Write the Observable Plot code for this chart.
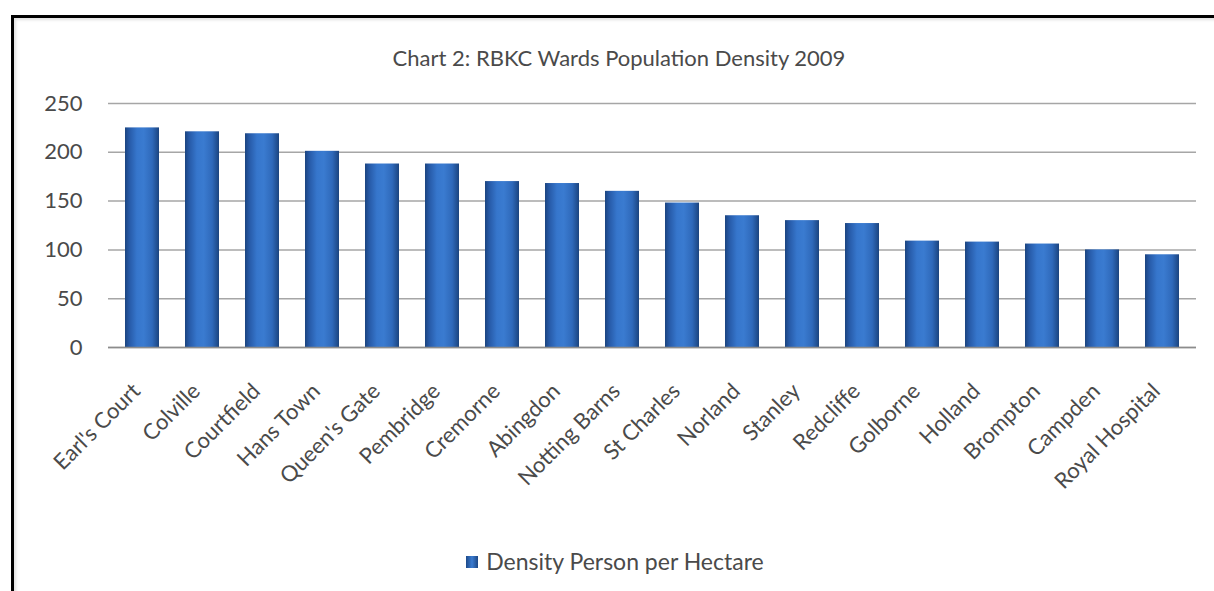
<!DOCTYPE html>
<html>
<head>
<meta charset="utf-8">
<script src="https://cdn.jsdelivr.net/npm/d3@7"></script>
<script src="https://cdn.jsdelivr.net/npm/@observablehq/plot@0.6"></script>
<style>
  html, body { margin: 0; padding: 0; overflow: hidden; background: #fff; width: 1214px; height: 591px; }
  #frame { position: absolute; left: 11px; top: 15px; width: 1240px; height: 620px;
           border-left: 3px solid #000; border-top: 3px solid #000;
           box-shadow: inset 2px 2px 3px rgba(0,0,0,0.12); z-index: 2; pointer-events: none; }
  #title { position: absolute; top: 44px; left: 12px; width: 1214px; text-align: center;
           font-family: Lato, sans-serif; font-size: 22px; color: #4a4a4a; }
  #chart { position: absolute; left: 0; top: 0; }
  #legend { position: absolute; top: 547px; left: 8px; width: 1214px; text-align: center;
            font-family: Lato, sans-serif; font-size: 23px; color: #4a4a4a; }
  #legend .sw { display: inline-block; width: 12px; height: 12px; margin-right: 8px; vertical-align: 2px;
                background: linear-gradient(90deg, #1d4a8a, #3a7bd0, #1c4784); }
</style>
</head>
<body>
<div id="frame"></div>
<div id="title">Chart 2: RBKC Wards Population Density 2009</div>
<div id="chart"></div>
<div id="legend"><span class="sw"></span>Density Person per Hectare</div>
<script>
const wards = ["Earl's Court", "Colville", "Courtfield", "Hans Town", "Queen's Gate", "Pembridge",
  "Cremorne", "Abingdon", "Notting Barns", "St Charles", "Norland", "Stanley", "Redcliffe",
  "Golborne", "Holland", "Brompton", "Campden", "Royal Hospital"];
const density = [225, 221, 219, 201, 188, 188, 170, 168, 160, 148, 135, 130, 127, 109, 108, 106, 100, 95];
const yTicks = [0, 50, 100, 150, 200, 250];

const data = wards.map((w, i) => ({ward: w, density: density[i]}));

const defsMark = () => {
  const defs = d3.create("svg:defs");
  const g = defs.append("linearGradient").attr("id", "barGrad")
    .attr("x1", 0).attr("x2", 1).attr("y1", 0).attr("y2", 0);
  [[0, "#1b447f"], [0.12, "#2659a6"], [0.35, "#3676cc"], [0.55, "#3a7bd0"], [0.8, "#2f69ba"], [1, "#1b447f"]]
    .forEach(([o, c]) => g.append("stop").attr("offset", o).attr("stop-color", c));
  const h = defs.append("linearGradient").attr("id", "capGrad")
    .attr("x1", 0).attr("x2", 1).attr("y1", 0).attr("y2", 0);
  [[0, "#3e74bf"], [0.3, "#79afef"], [0.6, "#7cb2f0"], [1, "#3e74bf"]]
    .forEach(([o, c]) => h.append("stop").attr("offset", o).attr("stop-color", c));
  return defs.node();
};

const chart = Plot.plot({
  width: 1214,
  height: 520,
  marginLeft: 108,
  marginRight: 18,
  marginTop: 103,
  marginBottom: 173,
  style: {fontFamily: "Lato, sans-serif", color: "#4a4a4a", background: "transparent", overflow: "visible"},
  x: {domain: wards, paddingInner: 0.43, paddingOuter: 0.215, label: null},
  y: {domain: [0, 250], label: null},
  marks: [
    defsMark,
    Plot.ruleY(yTicks, {stroke: "#a6a6a6", strokeWidth: 1.5}),
    Plot.barY(data, {x: "ward", y: "density", fill: "url(#barGrad)"}),
    Plot.tickY(data, {x: "ward", y: "density", stroke: "url(#capGrad)", strokeWidth: 4, dy: 3, insetLeft: 2, insetRight: 2}),
    Plot.ruleY([0], {stroke: "#8c8c8c", strokeWidth: 1.5}),
    Plot.axisY({ticks: yTicks, tickSize: 0, tickPadding: 26, fontSize: 22, label: null}),
    Plot.axisX({tickSize: 0, tickRotate: -45, tickPadding: 40, dx: -6, fontSize: 22, label: null})
  ]
});
document.getElementById("chart").appendChild(chart);
</script>
</body>
</html>
